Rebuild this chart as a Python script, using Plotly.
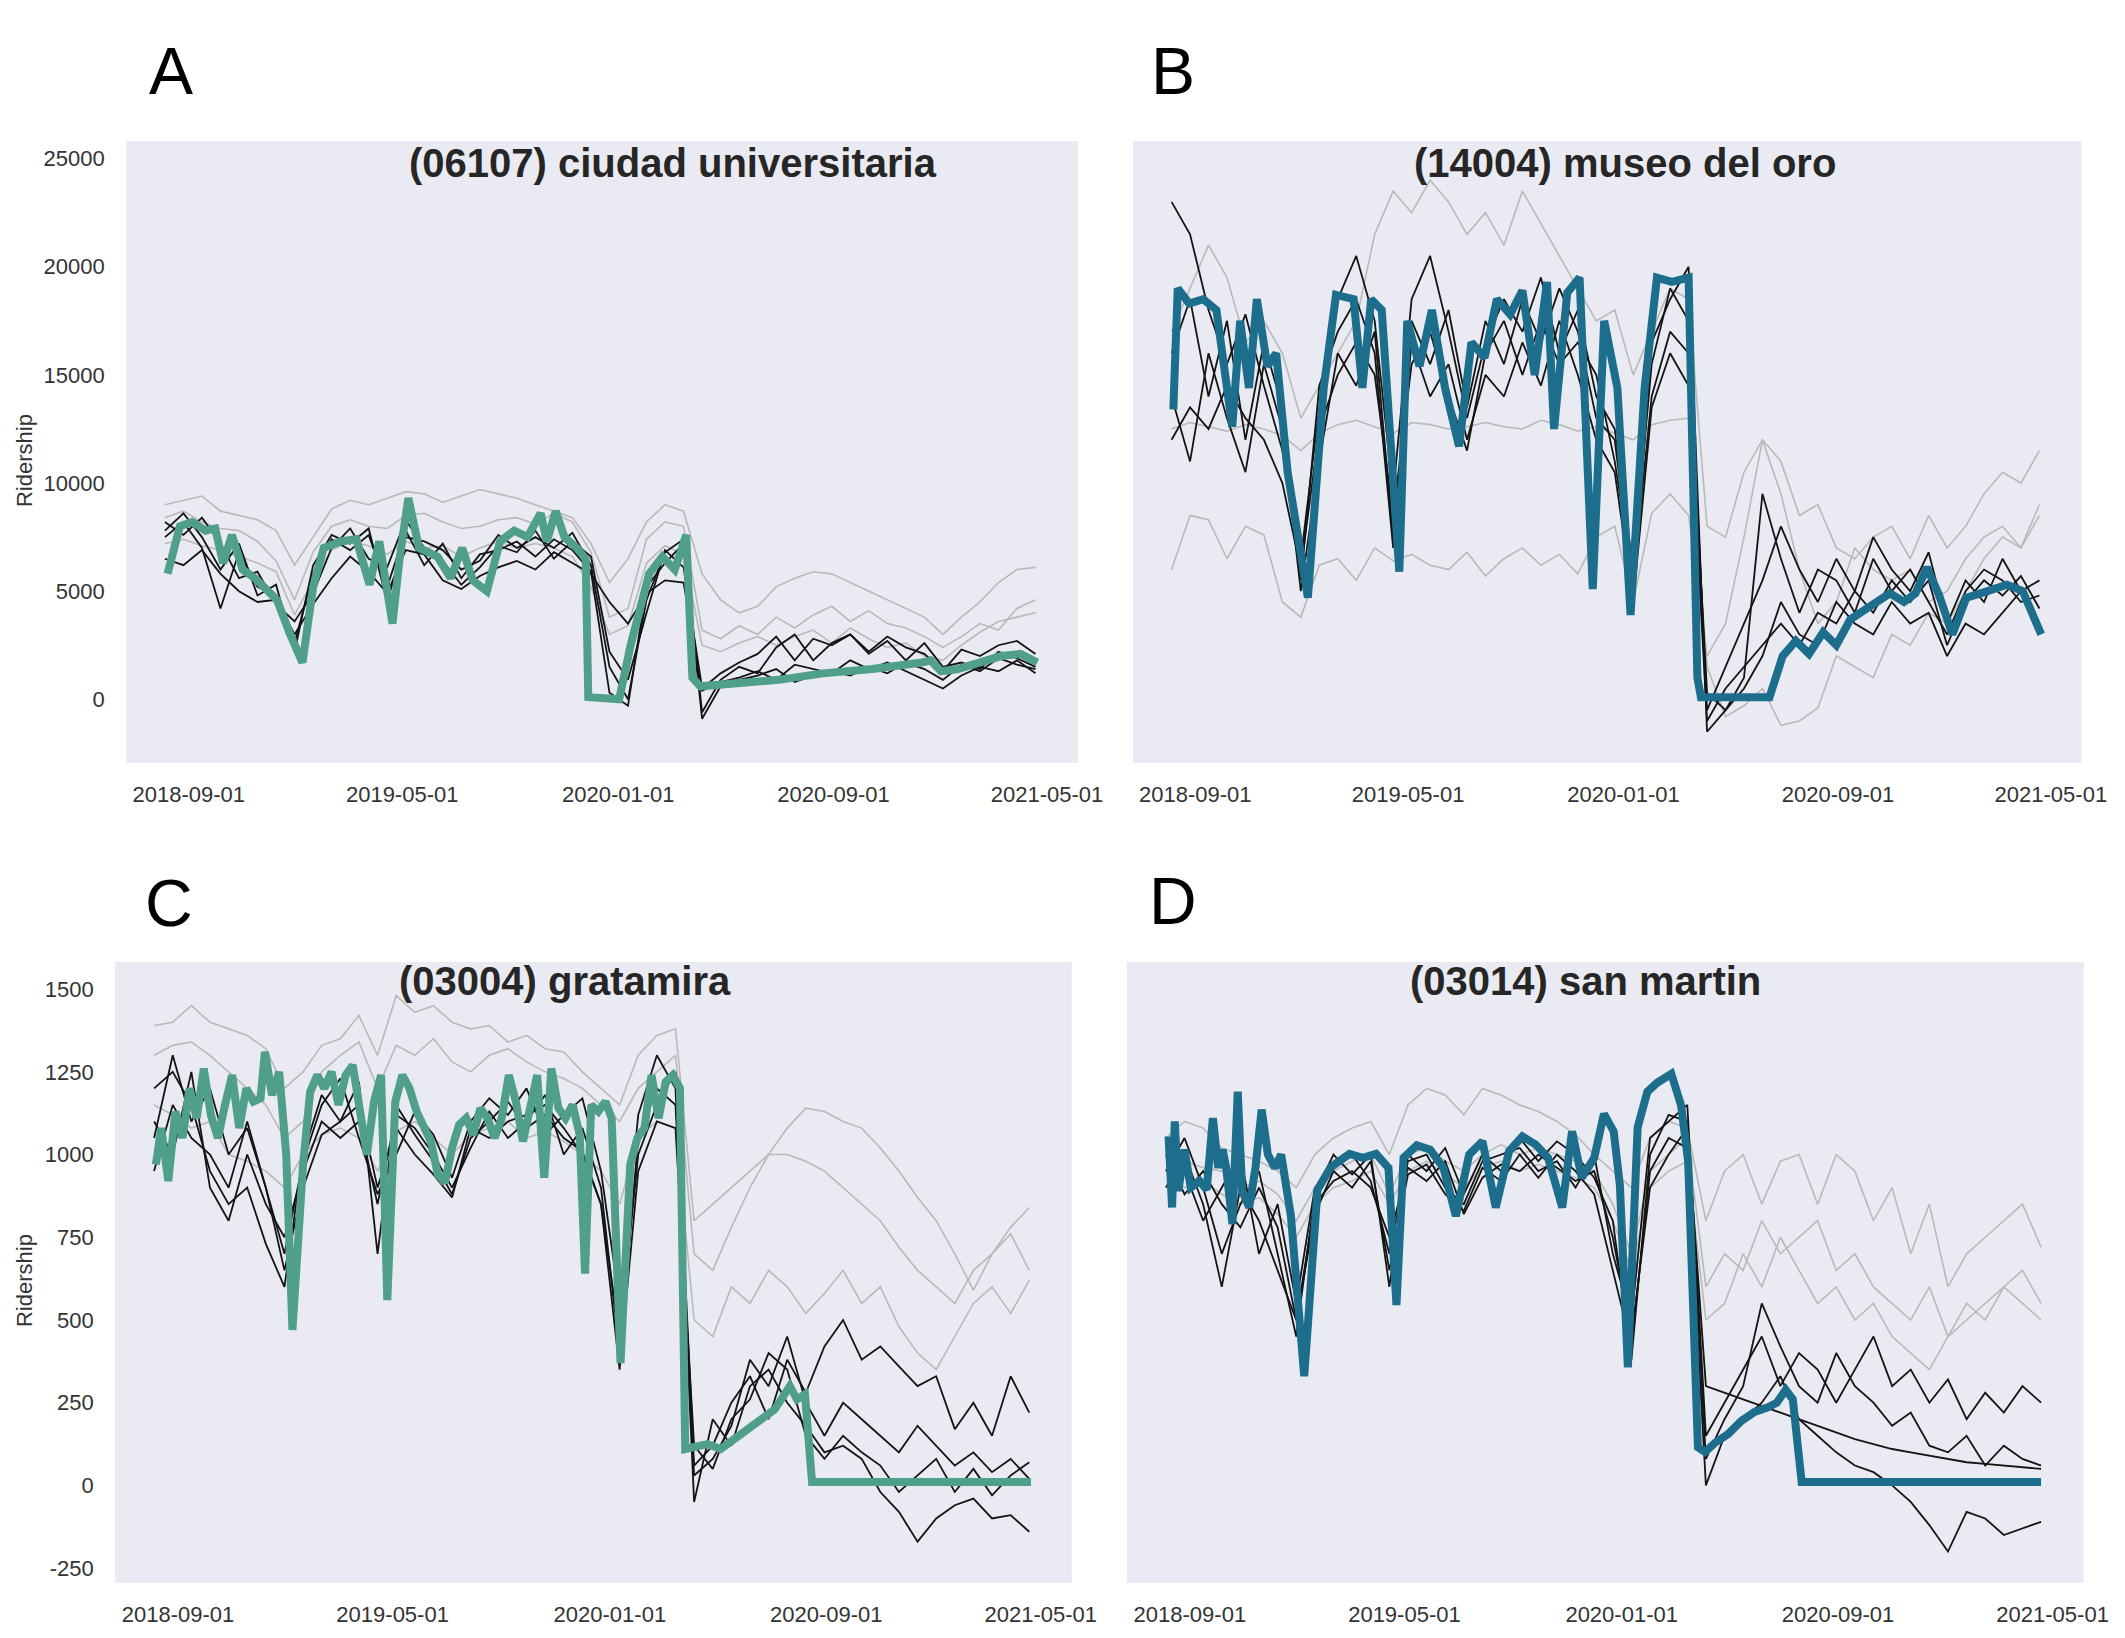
import pandas as pd
import plotly.graph_objects as go

# ---------------- shared data grid for thin lines (every 3 weeks) ----------------
grid_dates = pd.date_range("2018-08-05", periods=48, freq="21D")

x_tick_vals = ["2018-09-01", "2019-05-01", "2020-01-01", "2020-09-01", "2021-05-01"]
x_tick_text = ["2018-09-01", "2019-05-01", "2020-01-01", "2020-09-01", "2021-05-01"]
yA_ticks = [0, 5000, 10000, 15000, 20000, 25000]
yC_ticks = [-250, 0, 250, 500, 750, 1000, 1250, 1500]

titles = ["(06107) ciudad universitaria", "(14004) museo del oro",
          "(03004) gratamira", "(03014) san martin"]
panel_letters = ["A", "B", "C", "D"]

# ---------------- Panel A: (06107) ciudad universitaria ----------------
A_black1 = [7500, 8200, 7000, 4200, 6800, 5200, 4800, 2600, 5800, 7400, 6900, 7600, 5200, 7800, 6200, 7200,
            5600, 6700, 6900, 7300, 6600, 7400, 6900, 5900, 300, -300, 5200, 6300, 7200, -900, 600, 900,
            1100, 1400, 800, 1100, 1300, 1100, 1500, 1200, 1700, 1400, 900, 1600, 1300, 1900, 1600, 1400]
A_black2 = [8200, 7600, 8400, 7200, 5600, 5900, 4400, 3600, 4900, 7000, 7900, 6500, 6100, 8300, 7000, 6400,
            5300, 6100, 7100, 6800, 7800, 6500, 7300, 6600, 2200, 900, 4000, 6900, 6100, 500, 1200, 1700,
            2100, 2900, 1800, 2800, 2500, 3000, 2200, 2900, 2400, 2100, 1300, 2300, 2000, 2500, 2700, 2100]
A_black3 = [6500, 6200, 6900, 5800, 5000, 4500, 4600, 3000, 4400, 5600, 6600, 5900, 4900, 6900, 6700, 5500,
            5100, 5700, 6100, 6400, 6000, 6800, 6300, 5800, 4500, 3500, 4900, 5500, 5400, 400, 800, 1000,
            1300, 900, 1600, 1400, 1200, 1800, 1400, 1700, 1300, 900, 500, 1100, 1500, 1300, 1800, 1200]
A_black4 = [7800, 8600, 7500, 6000, 7200, 4800, 5300, 2200, 6200, 7600, 7200, 7900, 4500, 7500, 7300, 6900,
            6000, 6400, 7600, 7000, 7500, 7000, 7700, 6200, 1500, 0, 4600, 6800, 7400, -600, 900, 1500,
            1200, 2400, 3000, 1800, 2600, 3000, 2100, 2700, 1800, 2600, 1500, 1700, 1400, 2200, 1900, 1500]
A_gray1 = [9000, 9200, 9400, 8700, 8500, 8300, 7800, 6200, 7500, 8800, 9200, 9000, 9300, 9600, 9500, 9100,
           9400, 9700, 9500, 9300, 9000, 8700, 8400, 7200, 5400, 6500, 8200, 9000, 8700, 5800, 4600, 4000,
           4300, 5200, 5600, 5900, 5800, 5400, 5000, 4600, 4200, 3800, 3000, 3800, 4500, 5400, 6000, 6100]
A_gray2 = [8400, 8700, 8200, 7900, 7800, 7300, 6400, 4600, 6800, 8000, 8300, 8000, 7900, 8500, 8600, 8200,
           7900, 8000, 8300, 8400, 8100, 8600, 8200, 6800, 3800, 4200, 7400, 8200, 8000, 3200, 2800, 3400,
           3000, 3800, 3300, 3900, 4300, 3600, 4100, 3500, 3300, 2900, 2400, 2900, 3500, 3200, 4200, 4600]
A_gray3 = [7200, 7400, 7100, 6900, 6600, 6300, 5900, 3900, 5500, 6900, 7300, 7100, 6700, 7300, 7000, 7100,
           6600, 7000, 7300, 7000, 7200, 7000, 6600, 5200, 3000, 3400, 6300, 7100, 6700, 2500, 2200, 2600,
           2900, 2500, 2900, 3200, 2600, 3300, 2800, 2400, 2600, 2000, 1800, 2500, 3100, 3600, 3800, 4000]
A_main_dates = ["2018-08-08", "2018-08-15", "2018-08-22", "2018-09-05", "2018-09-20", "2018-10-01",
                "2018-10-10", "2018-10-20", "2018-11-01", "2018-11-15", "2018-11-25", "2018-12-10",
                "2018-12-25", "2019-01-08", "2019-01-20", "2019-02-01", "2019-02-20", "2019-03-10",
                "2019-03-25", "2019-04-05", "2019-04-20", "2019-04-28", "2019-05-08", "2019-05-20",
                "2019-06-10", "2019-06-25", "2019-07-08", "2019-07-20", "2019-08-05", "2019-08-20",
                "2019-09-05", "2019-09-20", "2019-10-05", "2019-10-12", "2019-10-22", "2019-11-01",
                "2019-11-15", "2019-11-25", "2019-11-28", "2020-01-02", "2020-01-15", "2020-02-05",
                "2020-02-20", "2020-03-05", "2020-03-18", "2020-03-25", "2020-04-03", "2020-05-15",
                "2020-07-01", "2020-08-20", "2020-10-15", "2020-12-10", "2020-12-20", "2021-01-01",
                "2021-01-20", "2021-03-10", "2021-04-01", "2021-04-20"]
A_main_vals = [5800, 6800, 8000, 8200, 7800, 7900, 6300, 7600, 6000, 5600, 5200, 4600, 3000, 1700, 5200,
               7000, 7300, 7400, 5300, 7300, 3500, 6500, 9300, 7000, 6600, 5600, 7000, 5500, 5000, 7300,
               7800, 7500, 8600, 7300, 8700, 7500, 7000, 6500, 100, 0, 2500, 5800, 6600, 6000, 7600, 1000,
               600, 700, 900, 1200, 1400, 1700, 1800, 1300, 1400, 2000, 2100, 1700]

# ---------------- Panel B: (14004) museo del oro ----------------
B_black1 = [23000, 21500, 18000, 15500, 17800, 14500, 11500, 6500, 13500, 18500, 20500, 17500, 9500, 18500,
            20500, 17000, 13000, 16500, 18500, 17000, 19500, 16000, 18000, 14000, 12500, 6000, 15500, 19000,
            17500, -500, 1500, 3500, 5500, 8000, 6000, 4500, 6500, 5000, 7500, 6000, 5000, 6800, 3500, 5500,
            4500, 6500, 5000, 5500]
B_black2 = [14000, 11000, 16000, 13000, 10500, 15500, 12500, 5000, 11000, 16000, 14500, 17000, 7500, 16500,
            14000, 15500, 12000, 15000, 14000, 16500, 14500, 17500, 15000, 12000, 10500, 4500, 13500, 16000,
            14500, -1000, 500, 1500, 2500, 3500, 2500, 4000, 3500, 5000, 4000, 5500, 4500, 5500, 2500, 4500,
            5500, 4800, 5700, 4200]
B_black3 = [12000, 13500, 12500, 14500, 13000, 12000, 10000, 6000, 12500, 15000, 16500, 15000, 8500, 15500,
            17000, 14000, 11500, 16000, 17500, 15000, 17500, 15500, 16500, 15000, 11000, 5500, 14000, 17000,
            16000, 300, -500, 500, 2000, 4500, 3000, 2500, 4500, 3500, 3000, 4500, 3500, 4000, 2000, 3500,
            3000, 4000, 5000, 3000]
B_black4 = [16000, 18500, 14000, 17500, 12000, 16500, 13500, 5500, 14500, 17000, 18500, 16000, 7000, 17500,
            15500, 18000, 13500, 17500, 15500, 18500, 16500, 19000, 17000, 13000, 12000, 5000, 16500, 18500,
            20000, -1500, -500, 1000, 9500, 6500, 4000, 6000, 5500, 4000, 6500, 5000, 6000, 4500, 3000, 5000,
            6000, 5500, 4500, 4800]
B_gray1 = [17000, 19000, 21000, 19500, 16500, 17500, 16000, 13000, 14500, 16000, 17500, 21500, 23500, 22500,
           24000, 23000, 21500, 22500, 21000, 23500, 22000, 20500, 19000, 17500, 18000, 15000, 17000, 19000,
           18500, 8000, 7500, 10500, 12000, 11000, 8500, 9000, 7000, 6500, 7500, 8000, 6500, 8500, 7000, 8000,
           9500, 10500, 10000, 11500]
B_gray2 = [6000, 8500, 8300, 6500, 8000, 7600, 4500, 3800, 6200, 6500, 5500, 7000, 6400, 6700, 6200, 6000,
           6800, 5700, 6500, 7000, 6200, 6700, 5800, 7500, 8000, 4500, 8600, 9500, 8500, 2000, 3500, 7500,
           12000, 9500, 6000, 3500, 4500, 7000, 6000, 5500, 6000, 4500, 5000, 6500, 7500, 8000, 7000, 8500]
B_gray3 = [12500, 12800, 12600, 12400, 12700, 12500, 12200, 11500, 12300, 12700, 12900, 12600, 12300, 12800,
           12700, 12500, 12600, 12800, 12600, 12500, 12900, 12700, 12400, 12600, 12300, 12000, 12700, 12900,
           13000, 1500, -800, -300, 500, -1200, -1000, -400, 2000, 1500, 1000, 3000, 2500, 4000, 3500, 5000,
           6500, 7500, 7000, 9000]
B_main_dates = ["2018-08-07", "2018-08-12", "2018-08-25", "2018-09-10", "2018-09-25", "2018-10-13",
                "2018-10-22", "2018-11-01", "2018-11-10", "2018-11-22", "2018-12-02", "2018-12-15",
                "2019-01-07", "2019-01-25", "2019-02-08", "2019-02-28", "2019-03-10", "2019-03-20",
                "2019-04-01", "2019-04-21", "2019-04-30", "2019-05-14", "2019-05-28", "2019-06-12",
                "2019-06-28", "2019-07-12", "2019-07-27", "2019-08-10", "2019-08-25", "2019-09-08",
                "2019-09-22", "2019-10-06", "2019-10-14", "2019-10-29", "2019-11-12", "2019-11-27",
                "2019-12-10", "2019-12-25", "2020-01-09", "2020-01-25", "2020-02-08", "2020-02-25",
                "2020-03-15", "2020-03-25", "2020-03-29", "2020-06-15", "2020-06-30", "2020-07-15",
                "2020-07-30", "2020-08-15", "2020-08-30", "2020-09-15", "2020-09-30", "2020-10-15",
                "2020-10-30", "2020-11-15", "2020-11-28", "2020-12-11", "2020-12-25", "2021-01-09",
                "2021-01-25", "2021-02-10", "2021-02-25", "2021-03-12", "2021-03-30", "2021-04-12",
                "2021-04-20"]
B_main_vals = [13400, 19000, 18300, 18500, 18000, 12600, 17500, 14400, 18500, 15400, 16000, 10500, 4700,
               14400, 18700, 18500, 14400, 18500, 18000, 5900, 17500, 15400, 18000, 14400, 11700, 16500,
               15800, 18500, 17800, 18900, 15000, 19300, 12500, 18800, 19500, 5100, 17500, 14400, 3900,
               14400, 19500, 19300, 19500, 1000, 100, 100, 2000, 2700, 2100, 3100, 2500, 3700, 4100, 4500,
               4900, 4500, 4900, 6100, 4800, 3000, 4700, 4900, 5100, 5300, 5000, 3700, 3000]

# ---------------- Panel C: (03004) gratamira ----------------
C_black1 = [1200, 1250, 1150, 950, 850, 900, 730, 600, 1000, 1180, 1100, 1220, 700, 1150, 1060, 980,
            880, 1050, 1100, 1160, 1080, 1120, 1050, 1010, 850, 450, 1000, 1150, 1250, 60, 120, 250,
            330, 200, 380, 280, 420, 500, 380, 420, 360, 300, 330, 170, 250, 150, 330, 220]
C_black2 = [1050, 1300, 1100, 1200, 1000, 1080, 900, 700, 980, 1150, 1230, 1050, 880, 1000, 1130, 1060,
            930, 1100, 1170, 1120, 1200, 1060, 1120, 1170, 950, 550, 1120, 1300, 1200, -50, 200, 120,
            300, 350, 250, 180, 100, 120, 80, -20, -80, -170, -100, -60, -40, -100, -90, -140]
C_black3 = [950, 1150, 1050, 1000, 900, 1100, 900, 650, 900, 1060, 1100, 1150, 900, 1080, 1000, 940,
            870, 1080, 1050, 1100, 1120, 1150, 1080, 1000, 850, 350, 950, 1100, 1080, 120, 50, 200,
            260, 400, 350, 150, 80, 150, 100, 60, -20, 30, 80, -20, 50, -30, 30, 70]
C_black4 = [1100, 1000, 1250, 900, 800, 1000, 850, 750, 950, 1100, 1050, 1100, 850, 1120, 1080, 1000,
            900, 1020, 1130, 1050, 1100, 1180, 1000, 1080, 900, 400, 1050, 1200, 1150, 30, 80, 180,
            380, 300, 450, 250, 150, 250, 200, 150, 100, 180, 120, 60, 100, 40, 80, 20]
C_gray1 = [1390, 1400, 1450, 1400, 1380, 1360, 1320, 1200, 1250, 1330, 1350, 1420, 1300, 1480, 1430, 1450,
           1400, 1380, 1390, 1340, 1360, 1320, 1310, 1250, 1200, 1150, 1300, 1360, 1380, 800, 850, 900,
           950, 1000, 1080, 1140, 1130, 1100, 1080, 1020, 950, 870, 800, 700, 590, 700, 780, 840]
C_gray2 = [1300, 1330, 1340, 1300, 1250, 1200, 1150, 1050, 1100, 1250, 1300, 1340, 1200, 1330, 1300, 1350,
           1280, 1250, 1300, 1320, 1280, 1250, 1230, 1200, 1150, 1100, 1200, 1250, 1300, 700, 650, 780,
           900, 1000, 1000, 980, 950, 900, 850, 800, 720, 650, 600, 550, 650, 700, 760, 650]
C_gray3 = [1150, 1120, 1080, 1100, 1000, 980, 950, 900, 1000, 1060, 1080, 1050, 950, 1070, 1100, 1050,
           1000, 1060, 1080, 1100, 1050, 1070, 1040, 1000, 950, 850, 1050, 1100, 1080, 500, 450, 600,
           550, 650, 600, 520, 580, 650, 550, 600, 480, 400, 350, 450, 550, 600, 520, 620]
C_main_dates = ["2018-08-07", "2018-08-13", "2018-08-21", "2018-08-29", "2018-09-06", "2018-09-14",
                "2018-09-22", "2018-09-30", "2018-10-08", "2018-10-16", "2018-10-24", "2018-11-01",
                "2018-11-09", "2018-11-17", "2018-11-25", "2018-12-03", "2018-12-08", "2018-12-16",
                "2018-12-24", "2019-01-01", "2019-01-08", "2019-01-20", "2019-01-28", "2019-02-05",
                "2019-02-13", "2019-02-21", "2019-03-01", "2019-03-09", "2019-03-17", "2019-03-25",
                "2019-04-02", "2019-04-10", "2019-04-18", "2019-04-25", "2019-05-04", "2019-05-12",
                "2019-05-20", "2019-05-28", "2019-06-05", "2019-06-13", "2019-06-21", "2019-06-29",
                "2019-07-07", "2019-07-15", "2019-07-23", "2019-07-31", "2019-08-08", "2019-08-16",
                "2019-08-24", "2019-09-01", "2019-09-09", "2019-09-17", "2019-09-25", "2019-10-03",
                "2019-10-11", "2019-10-19", "2019-10-23", "2019-10-27", "2019-11-04", "2019-11-12",
                "2019-11-20", "2019-11-28", "2019-12-04", "2019-12-11", "2019-12-19", "2019-12-27",
                "2020-01-03", "2020-01-13", "2020-01-24", "2020-02-01", "2020-02-09", "2020-02-17",
                "2020-02-25", "2020-03-04", "2020-03-12", "2020-03-20", "2020-03-26", "2020-04-05",
                "2020-04-20", "2020-05-05", "2020-05-20", "2020-06-05", "2020-06-20", "2020-07-05",
                "2020-07-22", "2020-07-30", "2020-08-08", "2020-08-16", "2021-04-20"]
C_main_vals = [970, 1080, 920, 1130, 1050, 1200, 1110, 1260, 1120, 1050, 1150, 1240, 1080, 1200, 1160,
               1170, 1310, 1180, 1250, 1000, 470, 970, 1190, 1240, 1200, 1250, 1150, 1240, 1270, 1140,
               1000, 1160, 1240, 560, 1160, 1240, 1200, 1130, 1080, 1040, 940, 915, 1020, 1090, 1110,
               1060, 1140, 1110, 1050, 1110, 1240, 1160, 1040, 1130, 1240, 930, 1100, 1260, 1140, 1110,
               1150, 1060, 640, 1150, 1130, 1160, 1110, 370, 970, 1050, 1080, 1240, 1110, 1220, 1240,
               1200, 110, 118, 125, 110, 140, 165, 195, 230, 300, 260, 275, 10, 10]

# ---------------- Panel D: (03014) san martin ----------------
D_black1 = [1050, 950, 800, 900, 1000, 700, 850, 550, 900, 960, 1000, 920, 700, 980, 1000, 900,
            850, 980, 1000, 1020, 950, 980, 900, 1000, 700, 500, 1050, 1100, 1150, 150, 250, 350,
            450, 300, 400, 350, 250, 350, 450, 300, 350, 250, 320, 200, 280, 220, 300, 250]
D_black2 = [900, 1000, 850, 600, 900, 800, 650, 500, 820, 950, 900, 980, 650, 940, 970, 880,
            830, 960, 920, 1000, 930, 1000, 950, 880, 650, 420, 950, 1050, 1020, 0, 150, 200,
            250, 330, 200, 150, 100, 60, 40, 0, -50, -120, -200, -80, -100, -150, -130, -110]
D_black3 = [1000, 880, 950, 850, 780, 900, 780, 500, 850, 920, 950, 900, 750, 960, 920, 980,
            820, 930, 970, 950, 1000, 960, 920, 950, 750, 450, 900, 1000, 1080, 300, 280, 260,
            240, 220, 200, 180, 160, 140, 125, 110, 100, 90, 80, 70, 65, 60, 55, 50]
D_black4 = [950, 1050, 900, 700, 850, 950, 700, 450, 880, 1000, 940, 1000, 600, 1000, 950, 1020,
            880, 1000, 950, 1050, 980, 1040, 1000, 930, 800, 380, 1000, 1120, 1100, 80, 200, 300,
            550, 420, 300, 250, 400, 300, 250, 180, 220, 120, 100, 150, 60, 120, 80, 60]
D_gray1 = [1050, 1100, 1080, 1020, 1000, 980, 950, 900, 1000, 1050, 1080, 1100, 1000, 1150, 1200, 1180,
           1120, 1200, 1180, 1150, 1130, 1100, 1060, 1000, 950, 900, 1050, 1100, 1080, 800, 950, 1000,
           850, 980, 1000, 850, 1000, 950, 800, 900, 700, 850, 600, 700, 750, 800, 850, 720]
D_gray2 = [1000, 980, 960, 950, 900, 920, 880, 800, 900, 950, 980, 1000, 880, 1000, 1020, 980,
           950, 1000, 1030, 1000, 1020, 1000, 980, 950, 850, 700, 950, 1000, 1050, 600, 700, 650,
           800, 700, 750, 800, 650, 700, 600, 550, 500, 600, 450, 500, 550, 600, 650, 550]
D_gray3 = [950, 900, 920, 880, 850, 870, 820, 750, 850, 900, 920, 950, 850, 950, 980, 940,
           900, 960, 980, 950, 970, 950, 930, 900, 800, 650, 900, 950, 980, 500, 550, 700,
           600, 750, 650, 550, 600, 500, 550, 450, 400, 350, 450, 550, 500, 600, 550, 500]
D_main_dates = ["2018-08-08", "2018-08-12", "2018-08-15", "2018-08-19", "2018-08-26", "2018-09-02",
                "2018-09-12", "2018-09-20", "2018-09-27", "2018-10-03", "2018-10-08", "2018-10-12",
                "2018-10-19", "2018-10-25", "2018-10-30", "2018-11-07", "2018-11-14", "2018-11-21",
                "2018-11-28", "2018-12-06", "2018-12-13", "2018-12-24", "2019-01-08", "2019-01-23",
                "2019-02-07", "2019-02-28", "2019-03-15", "2019-03-30", "2019-04-13", "2019-04-22",
                "2019-04-30", "2019-05-15", "2019-05-30", "2019-06-14", "2019-06-28", "2019-07-13",
                "2019-07-28", "2019-08-12", "2019-08-27", "2019-09-11", "2019-09-26", "2019-10-10",
                "2019-10-26", "2019-11-06", "2019-11-17", "2019-12-01", "2019-12-12", "2019-12-23",
                "2019-12-30", "2020-01-08", "2020-01-19", "2020-01-30", "2020-02-10", "2020-02-18",
                "2020-02-26", "2020-03-08", "2020-03-16", "2020-03-27", "2020-04-04", "2020-04-15",
                "2020-04-30", "2020-05-15", "2020-05-30", "2020-06-14", "2020-06-24", "2020-07-04",
                "2020-07-12", "2020-07-22", "2021-04-18"]
D_main_vals = [1055, 840, 1100, 890, 1015, 900, 920, 894, 1110, 960, 1015, 960, 790, 1190, 890, 840, 960,
               1136, 1000, 960, 1000, 814, 330, 894, 962, 1002, 990, 1002, 960, 545, 990, 1028, 1015,
               960, 814, 1000, 1040, 840, 1010, 1055, 1030, 990, 840, 1070, 930, 990, 1123, 1070, 907,
               357, 1082, 1190, 1217, 1230, 1244, 1149, 980, 115, 101, 128, 155, 195, 222, 236, 250, 289,
               260, 10, 10]

# ---------------- styling ----------------
BG = "#EAEAF2"
GRAY = "#b9b9b9"
BLACK = "#141414"
GREEN = "#4f9f8a"
BLUE = "#1d6e8c"
FONT = "Liberation Sans, Arial, sans-serif"
TICK_FONT = dict(family=FONT, size=22, color="#333333")

panels = [
    dict(grays=[A_gray1, A_gray2, A_gray3], blacks=[A_black1, A_black2, A_black3, A_black4],
         main=(A_main_dates, A_main_vals), color=GREEN),
    dict(grays=[B_gray1, B_gray2, B_gray3], blacks=[B_black1, B_black2, B_black3, B_black4],
         main=(B_main_dates, B_main_vals), color=BLUE),
    dict(grays=[C_gray1, C_gray2, C_gray3], blacks=[C_black1, C_black2, C_black3, C_black4],
         main=(C_main_dates, C_main_vals), color=GREEN),
    dict(grays=[D_gray1, D_gray2, D_gray3], blacks=[D_black1, D_black2, D_black3, D_black4],
         main=(D_main_dates, D_main_vals), color=BLUE),
]

fig = go.Figure()
for i, p in enumerate(panels):
    xa = "x" if i == 0 else f"x{i+1}"
    ya = "y" if i == 0 else f"y{i+1}"
    for s in p["grays"]:
        fig.add_trace(go.Scatter(x=grid_dates, y=s, mode="lines", xaxis=xa, yaxis=ya,
                                 line=dict(color=GRAY, width=1.6), hoverinfo="skip"))
    for s in p["blacks"]:
        fig.add_trace(go.Scatter(x=grid_dates, y=s, mode="lines", xaxis=xa, yaxis=ya,
                                 line=dict(color=BLACK, width=1.8), hoverinfo="skip"))
    d, v = p["main"]
    fig.add_trace(go.Scatter(x=d, y=v, mode="lines", xaxis=xa, yaxis=ya,
                             line=dict(color=p["color"], width=8), hoverinfo="skip"))

W, H = 2125, 1638
SX = 1.0127  # horizontal correction for the capture


def fx(px):
    return px * SX / W


def fy(py):
    return 1 - py / H


x_domains = [[fx(126), fx(1077)], [fx(1132), fx(2080)], [fx(115), fx(1071)], [fx(1126), fx(2082)]]
y_domains = [[fy(763), fy(141)], [fy(763), fy(141)], [fy(1583), fy(962)], [fy(1583), fy(962)]]
y_ranges = [[-2945, 25815], [-2945, 25815], [-295, 1582], [-295, 1582]]
x_range = ["2018-06-22", "2021-06-05"]

layout_axes = {}
for i in range(4):
    xk = "xaxis" if i == 0 else f"xaxis{i+1}"
    yk = "yaxis" if i == 0 else f"yaxis{i+1}"
    ya = "y" if i == 0 else f"y{i+1}"
    xa = "x" if i == 0 else f"x{i+1}"
    layout_axes[xk] = dict(domain=x_domains[i], anchor=ya, range=x_range, type="date",
                           tickvals=x_tick_vals, ticktext=x_tick_text, showgrid=False,
                           zeroline=False, showline=False, ticks="outside", ticklen=12,
                           tickcolor="rgba(0,0,0,0)", tickfont=TICK_FONT)
    yt = yA_ticks if i < 2 else yC_ticks
    layout_axes[yk] = dict(domain=y_domains[i], anchor=xa, range=y_ranges[i],
                           tickvals=yt, ticktext=[str(t) for t in yt], showgrid=False,
                           zeroline=False, showline=False, ticks="outside", ticklen=16,
                           tickcolor="rgba(0,0,0,0)", tickfont=TICK_FONT,
                           showticklabels=(i % 2 == 0))

title_pos = [(672, 163), (1624, 163), (565, 981), (1584, 981)]
letter_pos = [(171, 71), (1172, 71), (169, 903), (1172, 901)]
annotations = []
for i in range(4):
    tx, ty = title_pos[i]
    annotations.append(dict(x=fx(tx), y=fy(ty), xref="paper", yref="paper", text=f"<b>{titles[i]}</b>",
                            showarrow=False, xanchor="center", yanchor="middle",
                            font=dict(family=FONT, size=40, color="#262626")))
    lx, ly = letter_pos[i]
    annotations.append(dict(x=fx(lx), y=fy(ly), xref="paper", yref="paper", text=panel_letters[i],
                            showarrow=False, xanchor="center", yanchor="middle",
                            font=dict(family=FONT, size=66, color="black")))
for cy in (461, 1281):
    annotations.append(dict(x=fx(24), y=fy(cy), xref="paper", yref="paper", text="Ridership",
                            showarrow=False, textangle=-90, xanchor="center", yanchor="middle",
                            font=dict(family=FONT, size=22, color="#333333")))

fig.update_layout(width=W, height=H, autosize=False, margin=dict(l=0, r=0, t=0, b=0, pad=0),
                  paper_bgcolor="white", plot_bgcolor=BG, showlegend=False,
                  annotations=annotations, **layout_axes)

post = ("document.documentElement.style.margin='0';document.documentElement.style.padding='0';"
        "document.documentElement.style.overflow='hidden';"
        "document.body.style.margin='0';document.body.style.padding='0';"
        "document.body.style.overflow='hidden';")
fig.write_html("out.html", config={"displayModeBar": False}, post_script=post)
